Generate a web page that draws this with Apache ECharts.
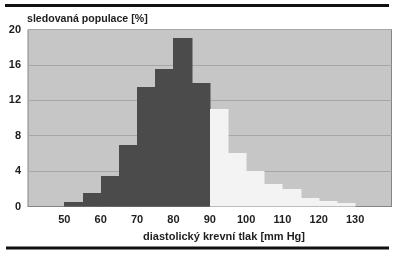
<!DOCTYPE html>
<html>
<head>
<meta charset="utf-8">
<script src="https://cdn.jsdelivr.net/npm/echarts@6/dist/echarts.min.js"></script>
<style>
html,body{margin:0;padding:0;background:#fff;}
#chart{width:400px;height:257px;}
</style>
</head>
<body>
<div id="chart"></div>
<script>
// Data
const binWidth = 5;
const darkStarts = [50, 55, 60, 65, 70, 75, 80, 85];
const darkPct = [0.5, 1.5, 3.5, 7, 13.5, 15.5, 19, 14];
const lightStarts = [90, 95, 100, 105, 110, 115, 120, 125];
const lightPct = [11, 6, 4, 2.5, 2, 1, 0.6, 0.4];
const xTickLabels = [50, 60, 70, 80, 90, 100, 110, 120, 130];
const yTickLabels = [0, 4, 8, 12, 16, 20];
const yName = 'sledovaná populace [%]';
const xName = 'diastolický krevní tlak [mm Hg]';

const font = '"Liberation Sans", Arial, sans-serif';

function histSeries(starts, vals, color) {
  return {
    type: 'custom',
    data: starts.map((s, i) => [s, s + binWidth, vals[i]]),
    encode: { x: [0, 1], y: 2 },
    renderItem: function (params, api) {
      const p0 = api.coord([api.value(0), 0]);
      const p1 = api.coord([api.value(1), api.value(2)]);
      const x0 = Math.round(p0[0]), x1 = Math.round(p1[0]);
      const yTop = Math.round(p1[1]), yBot = p0[1];
      return {
        type: 'rect',
        shape: { x: x0, y: yTop, width: x1 - x0 + 0.5, height: yBot - yTop },
        style: { fill: color, stroke: null }
      };
    },
    z: 3
  };
}

const chart = echarts.init(document.getElementById('chart'), null, { renderer: 'canvas' });
chart.setOption({
  animation: false,
  backgroundColor: '#ffffff',
  grid: {
    left: 28, right: 8.5, top: 29.5, bottom: 50.5,
    show: true, backgroundColor: '#c6c6c6', borderColor: '#858585', borderWidth: 1
  },
  xAxis: {
    type: 'value', min: 40, max: 140, interval: 10,
    axisLine: { show: true, lineStyle: { color: '#858585', width: 1 } },
    axisTick: { show: false },
    splitLine: { show: false },
    axisLabel: {
      margin: 8, color: '#1e1e1e', fontFamily: font, fontWeight: 'bold', fontSize: 11,
      formatter: v => (xTickLabels.indexOf(v) >= 0 ? String(v) : '')
    }
  },
  yAxis: {
    type: 'value', min: 0, max: 20, interval: 4,
    axisLine: { show: false },
    axisTick: { show: false },
    splitLine: { show: true, lineStyle: { color: '#a6a6a6', width: 1 } },
    axisLabel: {
      margin: 7, color: '#1e1e1e', fontFamily: font, fontWeight: 'bold', fontSize: 11,
      formatter: v => (yTickLabels.indexOf(v) >= 0 ? String(v) : '')
    }
  },
  series: [
    histSeries(darkStarts, darkPct, '#4b4b4b'),
    histSeries(lightStarts, lightPct, '#f3f3f3')
  ],
  graphic: [
    { type: 'rect', shape: { x: 5, y: 4, width: 384, height: 3 }, style: { fill: '#111' } },
    { type: 'rect', shape: { x: 6, y: 246.5, width: 383, height: 3 }, style: { fill: '#111' } },
    { type: 'text', left: 27, top: 14, style: { text: yName, fill: '#1e1e1e', font: 'bold 10.6px ' + font } },
    { type: 'text', left: 143, top: 231, style: { text: xName, fill: '#1e1e1e', font: 'bold 11px ' + font } }
  ]
});
</script>
</body>
</html>
